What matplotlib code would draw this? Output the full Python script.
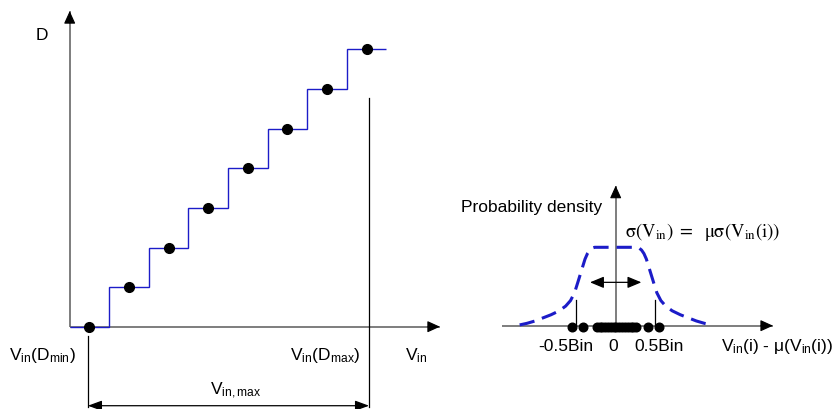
import numpy as np
import matplotlib
matplotlib.use("Agg")
import matplotlib.pyplot as plt

plt.rcParams['font.family'] = ['Liberation Sans', 'DejaVu Sans']
plt.rcParams['mathtext.fontset'] = 'custom'
plt.rcParams['mathtext.rm'] = 'Liberation Sans'
plt.rcParams['mathtext.it'] = 'Liberation Sans:italic'
plt.rcParams['mathtext.bf'] = 'Liberation Sans:bold'

# ---------------- data ----------------
# left: ADC transfer staircase (input level in LSB units, output code)
vin_points = [0, 1, 2, 3, 4, 5, 6, 7]
codes = [0, 1, 2, 3, 4, 5, 6, 7]
vin_dmin = -0.04
vin_dmax = 7.06

# right: probability density of Vin(i) - mu(Vin(i)) in Bin units (left half, mirrored)
pdf_x_half = [-1.19, -1.10, -1.00, -0.90, -0.80, -0.70, -0.62, -0.56, -0.51,
              -0.47, -0.44, -0.41, -0.38, -0.35, -0.32, -0.29, -0.26, 0.0]
pdf_y_half = [0.01, 0.03, 0.06, 0.10, 0.14, 0.19, 0.25, 0.32, 0.42,
              0.55, 0.65, 0.75, 0.85, 0.92, 0.965, 0.99, 1.0, 1.0]
samples = [-0.544, -0.40, -0.23, -0.20, -0.165, -0.13, -0.095, -0.06, -0.025,
           0.01, 0.045, 0.08, 0.115, 0.15, 0.185, 0.22, 0.25, 0.397, 0.541]
half_bin_marks = [-0.49, 0.49]
sigma_arrow = [-0.318, 0.318]
tick_pos = [-0.612, -0.03, 0.534]
tick_labels = ['-0.5Bin', '0', '0.5Bin']

W, H = 834, 410
fig = plt.figure(figsize=(W / 100, H / 100), dpi=100)

AX_COL = '#5a5a5a'
BLUE = '#1c1cc8'
FS = 12.5


def axis_arrow(ax, x0, y0, x1, y1, back):
    ax.plot([x0, x1], [y0, y1], color=AX_COL, lw=1.1, solid_capstyle='butt', zorder=2)
    bx = x1 - back[0]
    by = y1 - back[1]
    ax.annotate('', xy=(x1, y1), xytext=(bx, by),
                arrowprops=dict(arrowstyle='-|>,head_length=0.55,head_width=0.25',
                                color='black', lw=0.8, shrinkA=0, shrinkB=0,
                                mutation_scale=14), zorder=3)


# ---------------- left panel ----------------
axL = fig.add_axes([0, 0, 450 / W, 1])
axL.set_xlim(-2.260, 9.104)
axL.set_ylim(-2.078, 8.275)
axL.axis('off')

axis_arrow(axL, -0.5, 0, 8.85, 0, (0.3, 0))
axis_arrow(axL, -0.5, 0, -0.5, 7.97, (0, 0.3))

edges = np.arange(len(codes) + 1) - 0.5
axL.stairs(codes, edges, baseline=None, color=BLUE, lw=1.0, zorder=4)
axL.plot(vin_points, codes, 'o', color='black', ms=7, zorder=5)

axL.plot([vin_dmin, vin_dmin], [-0.235, -2.03], color='black', lw=0.9)
axL.plot([vin_dmax, vin_dmax], [5.78, -2.03], color='black', lw=0.9)
axL.annotate('', xy=(vin_dmin, -1.995), xytext=(vin_dmax, -1.995),
             arrowprops=dict(arrowstyle='<|-|>,head_length=0.6,head_width=0.22',
                             color='black', lw=0.9, shrinkA=0, shrinkB=0,
                             mutation_scale=14))

axL.text(-1.20, 7.366, 'D', ha='center', va='center', fontsize=FS)
axL.text(-1.18, -0.816, r'V$_{\mathrm{in}}$(D$_{\mathrm{min}}$)', ha='center',
         va='baseline', fontsize=FS)
axL.text(5.96, -0.816, r'V$_{\mathrm{in}}$(D$_{\mathrm{max}}$)', ha='center',
         va='baseline', fontsize=FS)
axL.text(8.26, -0.816, r'V$_{\mathrm{in}}$', ha='center', va='baseline', fontsize=FS)
axL.text(3.69, -1.70, r'V$_{\mathrm{in,max}}$', ha='center', va='baseline', fontsize=FS)

# ---------------- right panel ----------------
axR = fig.add_axes([450 / W, 0, 384 / W, 1])
axR.set_xlim(-2.053, 2.705)
axR.set_ylim(-1.0625, 4.167)
axR.axis('off')

axis_arrow(axR, -1.413, 0, 1.949, 0, (0.15, 0))
axis_arrow(axR, 0, 0, 0, 1.786, (0, 0.15))

px = np.array(pdf_x_half)
py = np.array(pdf_y_half)
cx = np.concatenate([px, -px[::-1][1:]])
cy = np.concatenate([py, py[::-1][1:]])
axR.plot(cx, cy, color=BLUE, lw=2.2, dashes=(5.0, 2.6), zorder=4)

axR.plot(samples, np.zeros(len(samples)) - 0.02, 'o', color='black', ms=6.2, zorder=5)
for m in half_bin_marks:
    axR.plot([m, m], [0, 0.325], color='black', lw=0.9)

axR.annotate('', xy=(sigma_arrow[0], 0.553), xytext=(sigma_arrow[1], 0.553),
             arrowprops=dict(arrowstyle='<|-|>,head_length=0.6,head_width=0.25',
                             color='black', lw=0.9, shrinkA=0, shrinkB=0,
                             mutation_scale=14))

axR.text(-1.047, 1.459, 'Probability density', ha='center', va='baseline', fontsize=FS)
axR.text(1.082, 1.148, r'$\mathrm{\sigma(V_{in})\ =\ \ \mu\sigma(V_{in}(i))}$',
         ha='center', va='baseline', fontsize=13.4, math_fontfamily='stix')
for x, lab in zip(tick_pos, tick_labels):
    axR.text(x, -0.306, lab, ha='center', va='baseline', fontsize=FS)
axR.text(2.0, -0.306, r'V$_{\mathrm{in}}$(i) - μ(V$_{\mathrm{in}}$(i))', ha='center',
         va='baseline', fontsize=FS)

fig.savefig('out.png', dpi=100)
